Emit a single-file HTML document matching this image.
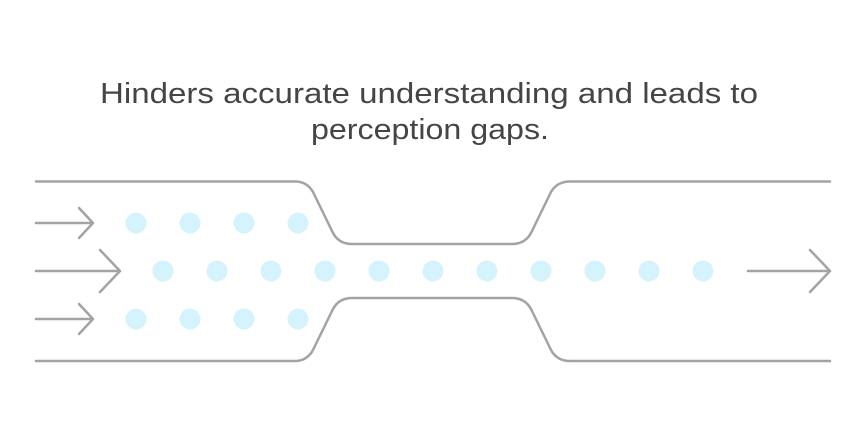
<!DOCTYPE html>
<html><head><meta charset="utf-8"><style>
html,body{margin:0;padding:0;background:#fff;}
svg{display:block;}
</style></head><body>
<svg width="867" height="435" viewBox="0 0 867 435" xmlns="http://www.w3.org/2000/svg">
<g font-family="'Liberation Sans', sans-serif" font-size="29" fill="#454545">
<text x="100" y="103" textLength="658" lengthAdjust="spacingAndGlyphs">Hinders accurate understanding and leads to</text>
<text x="311" y="139" textLength="238" lengthAdjust="spacingAndGlyphs">perception gaps.</text>
</g>
<g fill="none" stroke="#a3a3a3" stroke-width="2.5" stroke-linecap="round" stroke-linejoin="round">
<path d="M36 181.5 H295 Q307 181.5 313 192 L333 233 Q339 244 352 244 H512 Q525 244 531 233 L551 192 Q557 181.5 570 181.5 H830"/>
<path d="M36 361 H295 Q307 361 313 350 L333 309 Q339 298 352 298 H512 Q525 298 531 309 L551 350 Q557 361 570 361 H830"/>
<path d="M36 223 H93 M79 208 L93 223 L79 238"/>
<path d="M36 319 H93 M79 304 L93 319 L79 334"/>
<path d="M36 271 H120 M100 250 L120 271 L100 292"/>
<path d="M748 271 H830 M810 250 L830 271 L810 292"/>
</g>
<g fill="#d4f3fc">
<circle cx="136" cy="223" r="10.5"/><circle cx="190" cy="223" r="10.5"/><circle cx="244" cy="223" r="10.5"/><circle cx="298" cy="223" r="10.5"/>
<circle cx="136" cy="319" r="10.5"/><circle cx="190" cy="319" r="10.5"/><circle cx="244" cy="319" r="10.5"/><circle cx="298" cy="319" r="10.5"/>
<circle cx="163" cy="271" r="10.5"/><circle cx="217" cy="271" r="10.5"/><circle cx="271" cy="271" r="10.5"/><circle cx="325" cy="271" r="10.5"/><circle cx="379" cy="271" r="10.5"/><circle cx="433" cy="271" r="10.5"/><circle cx="487" cy="271" r="10.5"/><circle cx="541" cy="271" r="10.5"/><circle cx="595" cy="271" r="10.5"/><circle cx="649" cy="271" r="10.5"/><circle cx="703" cy="271" r="10.5"/>
</g>
</svg>
</body></html>
